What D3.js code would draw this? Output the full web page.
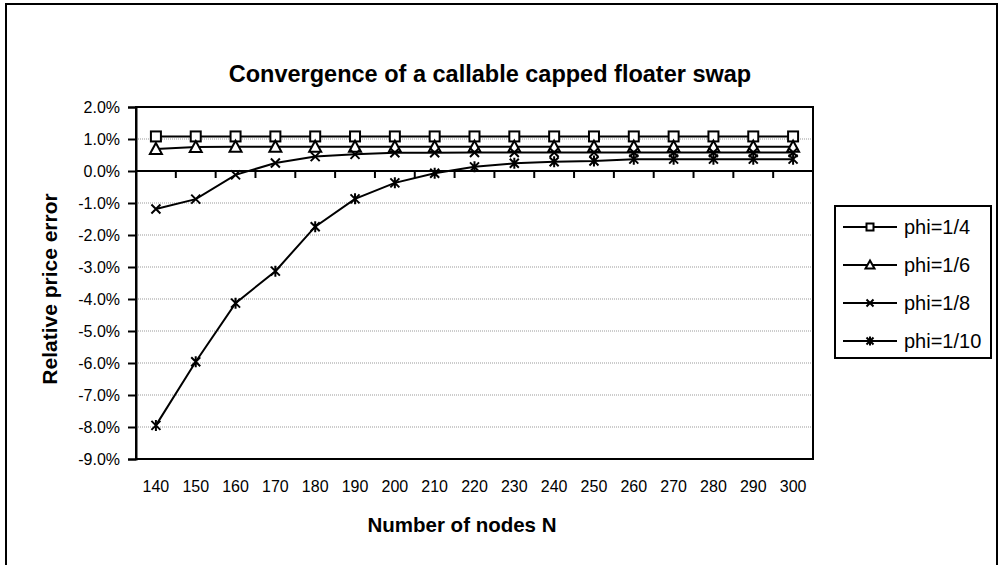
<!DOCTYPE html>
<meta charset="utf-8">
<style>
body { margin: 0; background: #fff; }
svg { display: block; font-family: "Liberation Sans", Arial, sans-serif; }
.grid line { stroke: #999; stroke-width: 1px; stroke-dasharray: 1,1; }
.series { fill: none; stroke: #000; stroke-width: 2px; }
</style>
<svg></svg>
<script src="https://d3js.org/d3.v7.min.js"></script>
<script>

// number of nodes N
var nodes = [140, 150, 160, 170, 180, 190, 200, 210, 220, 230, 240, 250, 260, 270, 280, 290, 300]

// relative price error, in %
var phi4  = [1.08, 1.08, 1.08, 1.08, 1.08, 1.08, 1.08, 1.08, 1.08, 1.08, 1.08, 1.08, 1.08, 1.08, 1.08, 1.08, 1.08]
var phi6  = [0.69, 0.75, 0.76, 0.76, 0.76, 0.76, 0.76, 0.76, 0.76, 0.76, 0.76, 0.76, 0.76, 0.76, 0.76, 0.76, 0.76]
var phi8  = [-1.19, -0.88, -0.12, 0.25, 0.45, 0.52, 0.57, 0.57, 0.58, 0.58, 0.58, 0.58, 0.58, 0.58, 0.58, 0.58, 0.58]
var phi10 = [-7.95, -5.96, -4.13, -3.13, -1.74, -0.87, -0.37, -0.07, 0.13, 0.24, 0.29, 0.31, 0.37, 0.37, 0.37, 0.37, 0.37]

var seriesNames = ['phi=1/4', 'phi=1/6', 'phi=1/8', 'phi=1/10']
var seriesMarks = ['square', 'triangle', 'cross', 'star']
var yTicks = [2, 1, 0, -1, -2, -3, -4, -5, -6, -7, -8, -9]

var width = 1000,
    height = 565,
    plot = {left: 136, right: 813, top: 107, bottom: 459}

var svg = d3.select('svg')
            .attr('width', width)
            .attr('height', height)

svg.append('rect')
    .attr('x', 0).attr('y', 0)
    .attr('width', width).attr('height', height)
    .attr('fill', '#fff')

// outer chart border
svg.append('rect')
    .attr('x', 6).attr('y', 4)
    .attr('width', 991).attr('height', 600)
    .attr('fill', 'none')
    .attr('stroke', '#000')
    .attr('stroke-width', 2)

var x = d3.scaleBand()
          .domain(nodes)
          .range([plot.left, plot.right])
          .paddingInner(0).paddingOuter(0)

var y = d3.scaleLinear()
          .domain([-9, 2])
          .range([plot.bottom, plot.top])

var cx = (d) => x(d) + x.bandwidth() / 2

// gridlines
svg.append('g')
    .attr('class', 'grid')
    .selectAll('line')
    .data(yTicks)
    .enter()
    .append('line')
    .attr('x1', plot.left)
    .attr('x2', plot.right)
    .attr('y1', (d) => y(d))
    .attr('y2', (d) => y(d))

// plot area border
svg.append('rect')
    .attr('x', plot.left).attr('y', plot.top)
    .attr('width', plot.right - plot.left)
    .attr('height', plot.bottom - plot.top)
    .attr('fill', 'none')
    .attr('stroke', '#000')
    .attr('stroke-width', 2)

// y axis
var gY = svg.append('g')
            .attr('transform', 'translate(' + plot.left + ',0)')
            .call(d3.axisLeft(y)
                    .tickValues(yTicks)
                    .tickSize(8)
                    .tickPadding(8)
                    .tickFormat((d) => d.toFixed(1) + '%'))
gY.select('.domain').attr('stroke-width', 2)
gY.selectAll('.tick line').attr('stroke-width', 2)
gY.selectAll('text')
    .attr('font-family', '"Liberation Sans", Arial, sans-serif')
    .attr('font-size', 16)
    .attr('fill', '#000')

// x axis along zero, ticks between categories
var zero = y(0)
svg.append('line')
    .attr('x1', plot.left).attr('x2', plot.right)
    .attr('y1', zero).attr('y2', zero)
    .attr('stroke', '#000')
    .attr('stroke-width', 2)

svg.append('g')
    .selectAll('line')
    .data(nodes.slice(1))
    .enter()
    .append('line')
    .attr('x1', (d) => x(d)).attr('x2', (d) => x(d))
    .attr('y1', zero).attr('y2', zero + 7)
    .attr('stroke', '#000')
    .attr('stroke-width', 2)

// category labels sit below the plot
svg.append('g')
    .selectAll('text')
    .data(nodes)
    .enter()
    .append('text')
    .attr('x', (d) => cx(d))
    .attr('y', 492)
    .attr('text-anchor', 'middle')
    .attr('font-size', 16)
    .text((d) => d)

// titles
svg.append('text')
    .attr('x', 490)
    .attr('y', 82)
    .attr('text-anchor', 'middle')
    .attr('font-size', 23.5)
    .attr('font-weight', 'bold')
    .text('Convergence of a callable capped floater swap')

svg.append('text')
    .attr('x', 462)
    .attr('y', 532)
    .attr('text-anchor', 'middle')
    .attr('font-size', 20.5)
    .attr('font-weight', 'bold')
    .text('Number of nodes N')

svg.append('text')
    .attr('transform', 'translate(57,289) rotate(-90)')
    .attr('text-anchor', 'middle')
    .attr('font-size', 21)
    .attr('font-weight', 'bold')
    .text('Relative price error')

function drawMark(g, kind, s) {
    var h = s / 2
    if (kind == 'square') {
        g.append('rect')
            .attr('x', -h).attr('y', -h)
            .attr('width', s).attr('height', s)
            .attr('fill', '#fff').attr('stroke', '#000').attr('stroke-width', 2)
    } else if (kind == 'triangle') {
        g.append('path')
            .attr('d', 'M0,' + (-h - 1) + 'L' + (h + 1) + ',' + h + 'L' + (-h - 1) + ',' + h + 'Z')
            .attr('fill', '#fff').attr('stroke', '#000').attr('stroke-width', 2)
    } else {
        var p = 'M' + (-h) + ',' + (-h) + 'L' + h + ',' + h + 'M' + (-h) + ',' + h + 'L' + h + ',' + (-h)
        if (kind == 'star') p += 'M0,' + (-h - 1) + 'L0,' + (h + 1)
        g.append('path')
            .attr('d', p)
            .attr('fill', 'none').attr('stroke', '#000').attr('stroke-width', 2)
    }
}

var line = d3.line()
             .x((d) => cx(d.n))
             .y((d) => y(d.v))

var allSeries = [phi4, phi6, phi8, phi10]

allSeries.forEach(function (vals, si) {
    var pts = vals.map((v, i) => ({n: nodes[i], v: v}))
    var g = svg.append('g')
    g.append('path')
        .attr('class', 'series')
        .attr('d', line(pts))
    pts.forEach(function (d) {
        var m = g.append('g').attr('transform', 'translate(' + cx(d.n) + ',' + y(d.v) + ')')
        drawMark(m, seriesMarks[si], si < 2 ? 10 : 9)
    })
})

// legend
var legend = svg.append('g')
legend.append('rect')
    .attr('x', 835).attr('y', 206)
    .attr('width', 156).attr('height', 152)
    .attr('fill', '#fff')
    .attr('stroke', '#000')
    .attr('stroke-width', 2)

seriesNames.forEach(function (name, i) {
    var ly = 227 + i * 38
    legend.append('line')
        .attr('x1', 843).attr('x2', 897)
        .attr('y1', ly).attr('y2', ly)
        .attr('stroke', '#000').attr('stroke-width', 2)
    var m = legend.append('g').attr('transform', 'translate(870,' + ly + ')')
    drawMark(m, seriesMarks[i], 7)
    legend.append('text')
        .attr('x', 904)
        .attr('y', ly + 7)
        .attr('font-size', 20)
        .text(name)
})
</script>
